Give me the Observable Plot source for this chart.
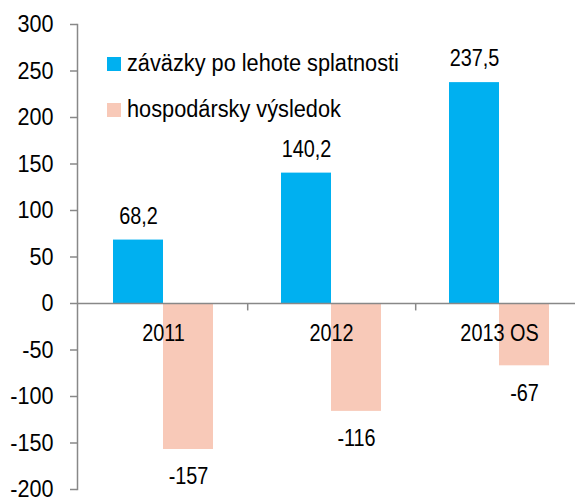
<!DOCTYPE html>
<html>
<head>
<meta charset="utf-8">
<script src="https://cdn.jsdelivr.net/npm/d3@7"></script>
<script src="https://cdn.jsdelivr.net/npm/@observablehq/plot@0.6"></script>
<style>
  html, body { margin: 0; padding: 0; background: #fff; }
  #wrap { position: relative; width: 575px; height: 499px; font-family: "Liberation Sans", Arial, sans-serif; }
  .legend { position: absolute; left: 107px; font-size: 23.5px; line-height: 1; color: #000; display: flex; align-items: center; white-space: nowrap; }
  .legend .sw { width: 14px; height: 14px; margin-right: 6px; flex: none; }
  .legend span { display: inline-block; transform: scaleX(0.925); transform-origin: left center; }
</style>
</head>
<body>
<div id="wrap"></div>
<script>
const years = ["2011", "2012", "2013 OS"];
const zavazky = [68.2, 140.2, 237.5];
const zavazkyLabels = ["68,2", "140,2", "237,5"];
const vysledok = [-157, -116, -67];
const vysledokLabels = ["-157", "-116", "-67"];
const yTicks = [-200, -150, -100, -50, 0, 50, 100, 150, 200, 250, 300];
const seriesNames = ["záväzky po lehote splatnosti", "hospodársky výsledok"];
const seriesColors = ["#00B0F0", "#F8C9B8"];

const table = years.map((year, i) => ({
  year, zav: zavazky[i], zavLabel: zavazkyLabels[i], hv: vysledok[i], hvLabel: vysledokLabels[i]
}));

const font = '"Liberation Sans", Arial, sans-serif';
const axisColor = "#888888";

const chart = Plot.plot({
  width: 575,
  height: 499,
  marginLeft: 77,
  marginTop: 24,
  marginBottom: 10,
  marginRight: 0,
  style: { fontFamily: font, fontSize: "24px", color: "#000", background: "#fff" },
  x: { domain: years, range: [78, 583], padding: 0, axis: null },
  y: { domain: [-200, 300], axis: null },
  marks: [
    Plot.barY(table, { x: "year", y: "zav", fill: seriesColors[0], insetLeft: 34, insetRight: 84 }),
    Plot.barY(table, { x: "year", y: "hv", fill: seriesColors[1], insetLeft: 84, insetRight: 34 }),
    Plot.axisY({ ticks: yTicks, tickSize: 7, tickPadding: 17, tickFormat: d => String(d), stroke: axisColor, strokeWidth: 1.5, fill: "#000", fontSize: 23.5 }),
    Plot.frame({ anchor: "left", stroke: axisColor, strokeWidth: 1.5 }),
    Plot.ruleY([0], { stroke: axisColor, strokeWidth: 1.5 }),
    Plot.ruleX(years.slice(0, 2), { x: d => d, dx: 84.2, y1: 0, y2: -8, stroke: axisColor, strokeWidth: 1.5 }),
    Plot.text(table, { x: "year", y: 0, dy: 30, text: "year", fill: "#000", fontSize: 24.5 }),
    Plot.text(table, { x: "year", y: "zav", dx: -25, dy: -24, text: "zavLabel", fill: "#000", fontSize: 24.5 }),
    Plot.text(table, { x: "year", y: "hv", dx: 25, dy: 27, text: "hvLabel", fill: "#000", fontSize: 24.5 })
  ]
});

// horizontally condensed lettering, as in the reference (scale about each text's anchor)
function condense(sel, sx) {
  sel.each(function () {
    const t = this.getAttribute("transform");
    if (t) {
      this.setAttribute("transform", t + ` scale(${sx},1)`);
    } else {
      const x = +(this.getAttribute("x") || 0), y = +(this.getAttribute("y") || 0);
      this.removeAttribute("x");
      this.removeAttribute("y");
      this.setAttribute("transform", `translate(${x},${y}) scale(${sx},1)`);
    }
  });
}
condense(d3.select(chart).selectAll('g[aria-label="text"] text'), 0.81);
condense(d3.select(chart).selectAll('g[aria-label="y-axis tick label"] text'), 0.92);

const wrap = document.getElementById("wrap");
wrap.appendChild(chart);
const legendTops = [52, 98];
seriesNames.forEach((name, i) => {
  const item = document.createElement("div");
  item.className = "legend";
  item.style.top = legendTops[i] + "px";
  const sw = document.createElement("div");
  sw.className = "sw";
  sw.style.background = seriesColors[i];
  const label = document.createElement("span");
  label.textContent = name;
  item.appendChild(sw);
  item.appendChild(label);
  wrap.appendChild(item);
});
</script>
</body>
</html>
